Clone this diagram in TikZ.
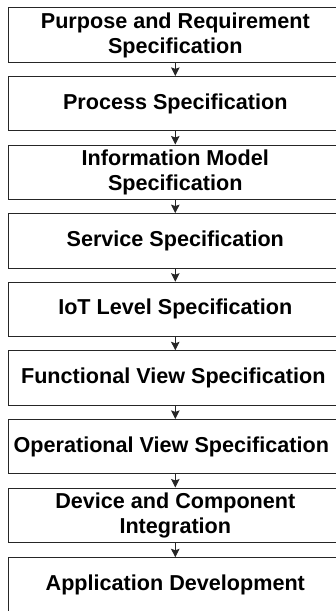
\documentclass[tikz,border=0pt]{standalone}
\usepackage{fontspec}
\setmainfont{Liberation Sans}
\usetikzlibrary{arrows.meta}

\tikzset{
  stagebox/.style={draw=black!85, line width=0.9pt, fill=white, minimum width=333.5pt,
    minimum height=54.5pt, inner sep=0pt, align=center,
    font=\fontsize{21.6pt}{25pt}\selectfont\bfseries},
  stagearrow/.style={draw=black!85, line width=0.9pt, -{Stealth[length=8.5pt,width=8.5pt,inset=1.5pt]}}
}

\begin{document}
\begin{tikzpicture}[x=1pt,y=-1pt]
\useasboundingbox (0,0) rectangle (336,611);
\node[stagebox] (purpose) at (175.3,35.0) {Purpose and Requirement\\Specification};
\node[stagebox] (process) at (175.3,103.6) {Process Specification};
\node[stagebox] (infomodel) at (175.3,172.2) {Information Model\\Specification};
\node[stagebox] (service) at (175.3,240.8) {Service Specification};
\node[stagebox] (iotlevel) at (175.3,309.4) {IoT Level Specification};
\node[stagebox] (funcview) at (175.3,378.0) {\hspace*{-4pt}Functional View Specification};
\node[stagebox] (opview) at (175.3,446.6) {\hspace*{-8pt}Operational View Specification};
\node[stagebox] (device) at (175.3,515.2) {Device and Component\\Integration};
\node[stagebox] (appdev) at (175.3,585.0) {Application Development};
\draw[stagearrow] (purpose) -- (process);
\draw[stagearrow] (process) -- (infomodel);
\draw[stagearrow] (infomodel) -- (service);
\draw[stagearrow] (service) -- (iotlevel);
\draw[stagearrow] (iotlevel) -- (funcview);
\draw[stagearrow] (funcview) -- (opview);
\draw[stagearrow] (opview) -- (device);
\draw[stagearrow] (device) -- (appdev);
\end{tikzpicture}
\end{document}
